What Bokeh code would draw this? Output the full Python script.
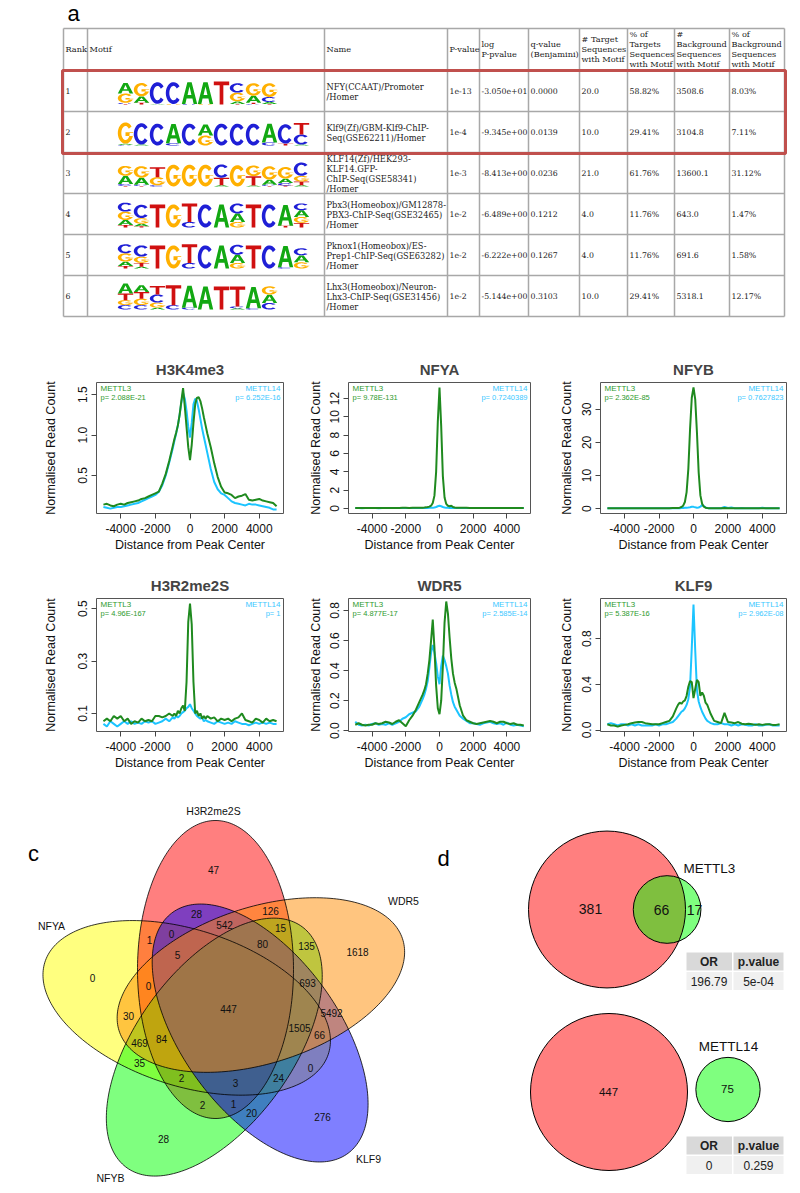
import numpy as np
from bokeh.plotting import figure
from bokeh.models import Range1d, Label
from bokeh.layouts import column, row
from bokeh.embed import file_html
from bokeh.resources import INLINE
from bokeh.core.properties import value

SANS = "Liberation Sans"
SERIF = "DejaVu Serif"

# ======================= DATA : panel a (HOMER known motif table) =======================
table_headers = ["Rank", "Motif", "Name", "P-value", "log\nP-pvalue", "q-value\n(Benjamini)",
                 "# Target\nSequences\nwith Motif", "% of\nTargets\nSequences\nwith Motif",
                 "#\nBackground\nSequences\nwith Motif", "% of\nBackground\nSequences\nwith Motif"]
ranks = ["1", "2", "3", "4", "5", "6"]
motif_names = ["NFY(CCAAT)/Promoter\n/Homer",
               "Klf9(Zf)/GBM-Klf9-ChIP-\nSeq(GSE62211)/Homer",
               "KLF14(Zf)/HEK293-\nKLF14.GFP-\nChIP-Seq(GSE58341)\n/Homer",
               "Pbx3(Homeobox)/GM12878-\nPBX3-ChIP-Seq(GSE32465)\n/Homer",
               "Pknox1(Homeobox)/ES-\nPrep1-ChIP-Seq(GSE63282)\n/Homer",
               "Lhx3(Homeobox)/Neuron-\nLhx3-ChIP-Seq(GSE31456)\n/Homer"]
p_values = ["1e-13", "1e-4", "1e-3", "1e-2", "1e-2", "1e-2"]
log_p = ["-3.050e+01", "-9.345e+00", "-8.413e+00", "-6.489e+00", "-6.222e+00", "-5.144e+00"]
q_values = ["0.0000", "0.0139", "0.0236", "0.1212", "0.1267", "0.3103"]
n_target = ["20.0", "10.0", "21.0", "4.0", "4.0", "10.0"]
pct_target = ["58.82%", "29.41%", "61.76%", "11.76%", "11.76%", "29.41%"]
n_background = ["3508.6", "3104.8", "13600.1", "643.0", "691.6", "5318.1"]
pct_background = ["8.03%", "7.11%", "31.12%", "1.47%", "1.58%", "12.17%"]

# motif logos: information (bits) of each letter per position
motif_nfy = [{"A": .85, "G": .75, "C": .08, "T": .05}, {"G": 1.07, "A": .5, "T": .15},
             {"C": 1.73, "A": .05}, {"C": 1.75, "G": .04}, {"A": 1.75, "C": .04}, {"A": 1.75, "G": .04},
             {"T": 1.85}, {"C": .75, "G": .7, "A": .2, "T": .05}, {"G": 1.0, "A": .55, "T": .1, "C": .05},
             {"G": 1.1, "C": .4, "A": .15, "T": .05}]
motif_klf9 = [{"G": 1.7, "A": .1, "C": .05}, {"C": 1.7, "A": .08}, {"C": 1.75}, {"A": 1.55, "C": .18},
              {"C": 1.75}, {"G": .8, "A": .88}, {"C": 1.75}, {"C": 1.75}, {"C": 1.75},
              {"A": 1.5, "C": .25}, {"C": 1.55, "T": .15}, {"T": .93, "C": .8, "A": .08}]
motif_klf14 = [{"G": .8, "A": .65, "C": .15, "T": .05}, {"G": .93, "A": .55, "C": .1, "T": .05},
               {"T": .8, "G": .65, "C": .1}, {"G": 1.75}, {"G": 1.75}, {"G": 1.75},
               {"C": 1.07, "T": .6, "A": .1}, {"G": 1.7}, {"G": .85, "T": .75, "A": .08},
               {"G": 1.07, "A": .4, "C": .1, "T": .05}, {"G": .93, "A": .35, "C": .2, "T": .08},
               {"C": 1.07, "G": .45, "T": .3, "A": .1}]
motif_pbx3 = [{"C": .72, "G": .67, "A": .4, "T": .2}, {"C": 1.07, "G": .45, "A": .2, "T": .1},
              {"T": 1.85}, {"G": 1.85}, {"T": 1.47, "C": .45}, {"C": 1.85}, {"A": 1.85},
              {"A": .67, "C": .8, "G": .45}, {"T": 1.85}, {"C": 1.85}, {"A": 1.65, "T": .15},
              {"A": .53, "C": .55, "G": .48, "T": .37}]
motif_pknox1 = [{"C": .72, "G": .67, "A": .35, "T": .2}, {"C": .9, "G": .5, "T": .3, "A": .15},
                {"T": 1.85}, {"G": 1.85}, {"T": 1.5, "C": .45}, {"C": 1.85}, {"A": 1.85},
                {"A": .65, "C": .8, "G": .45}, {"T": 1.85}, {"C": 1.85}, {"A": 1.7, "C": .1},
                {"A": .55, "C": .57, "G": .5}]
motif_lhx3 = [{"A": .8, "T": .53, "G": .4, "C": .35}, {"A": .55, "T": .53, "G": .52, "C": .35},
              {"T": .67, "C": .66, "G": .4, "A": .15}, {"T": 1.6, "C": .35}, {"A": 1.75, "C": .15},
              {"A": 1.85}, {"T": 1.85}, {"T": 1.6, "C": .15, "A": .1}, {"A": 1.7, "C": .1},
              {"G": .67, "A": .66, "C": .53}]
motifs = [motif_nfy, motif_klf9, motif_klf14, motif_pbx3, motif_pknox1, motif_lhx3]

# ======================= DATA : panel b (read-count profiles) =======================
X = ([-5000 + 200 * i for i in range(21)] + [-900 + 100 * i for i in range(19)]
     + [1000 + 200 * i for i in range(21)])

h3k4me3_m3 = [0.14, 0.15, 0.13, 0.12, 0.14, 0.15, 0.14, 0.16, 0.17, 0.18, 0.19, 0.21, 0.22, 0.24, 0.26, 0.28, 0.30, 0.40, 0.52, 0.68, 0.86,
              0.95, 1.03, 1.12, 1.25, 1.42, 1.58, 1.35, 1.10, 0.85, 0.69, 0.88, 1.15, 1.38, 1.46, 1.47, 1.42, 1.33, 1.22, 1.12,
              1.02, 0.85, 0.65, 0.48, 0.36, 0.29, 0.28, 0.26, 0.22, 0.24, 0.25, 0.27, 0.20, 0.19, 0.20, 0.21, 0.19, 0.18, 0.17, 0.16, 0.12]
h3k4me3_m14 = [0.11, 0.10, 0.09, 0.10, 0.11, 0.11, 0.12, 0.13, 0.14, 0.15, 0.16, 0.18, 0.20, 0.22, 0.24, 0.26, 0.30, 0.38, 0.50, 0.66, 0.83,
               0.93, 1.02, 1.12, 1.25, 1.40, 1.52, 1.45, 1.30, 1.10, 0.97, 1.15, 1.38, 1.45, 1.42, 1.32, 1.20, 1.08, 0.98, 0.88,
               0.78, 0.58, 0.42, 0.33, 0.28, 0.26, 0.22, 0.18, 0.16, 0.15, 0.14, 0.13, 0.15, 0.14, 0.14, 0.13, 0.12, 0.11, 0.10, 0.08, 0.08]
nfya_m3 = [0.06, 0.05, 0.05, 0.06, 0.05, 0.05, 0.06, 0.05, 0.05, 0.06, 0.06, 0.05, 0.06, 0.06, 0.07, 0.08, 0.06, 0.07, 0.07, 0.08, 0.09,
           0.10, 0.12, 0.15, 0.20, 0.30, 0.60, 1.40, 4.00, 9.50, 13.2, 9.00, 3.50, 1.20, 0.50, 0.30, 0.25, 0.30, 0.15, 0.10,
           0.09, 0.08, 0.07, 0.07, 0.06, 0.06, 0.06, 0.05, 0.05, 0.06, 0.05, 0.05, 0.05, 0.06, 0.05, 0.05, 0.05, 0.04, 0.05, 0.05, 0.05]
nfya_m14 = [0.04, 0.04, 0.03, 0.04, 0.04, 0.04, 0.04, 0.03, 0.04, 0.04, 0.04, 0.04, 0.04, 0.05, 0.04, 0.04, 0.05, 0.04, 0.05, 0.05, 0.05,
            0.05, 0.06, 0.06, 0.07, 0.07, 0.08, 0.10, 0.16, 0.24, 0.30, 0.24, 0.16, 0.10, 0.08, 0.07, 0.06, 0.06, 0.05, 0.05,
            0.05, 0.05, 0.04, 0.04, 0.04, 0.04, 0.04, 0.04, 0.04, 0.04, 0.04, 0.04, 0.04, 0.04, 0.04, 0.04, 0.04, 0.04, 0.04, 0.04, 0.04]
nfyb_m3 = [0.10, 0.12, 0.10, 0.10, 0.11, 0.10, 0.12, 0.10, 0.10, 0.11, 0.10, 0.12, 0.10, 0.11, 0.12, 0.12, 0.13, 0.14, 0.15, 0.18, 0.20,
           0.22, 0.30, 0.50, 0.90, 2.00, 5.00, 12.0, 24.0, 33.5, 36.6, 33.0, 23.0, 11.0, 4.00, 1.50, 0.60, 0.30, 0.20, 0.15,
           0.15, 0.12, 0.12, 0.12, 0.20, 0.12, 0.15, 0.12, 0.10, 0.12, 0.10, 0.10, 0.10, 0.10, 0.10, 0.15, 0.10, 0.10, 0.10, 0.10, 0.10]
nfyb_m14 = [0.10, 0.10, 0.10, 0.10, 0.10, 0.10, 0.10, 0.12, 0.10, 0.10, 0.10, 0.10, 0.10, 0.10, 0.12, 0.10, 0.10, 0.12, 0.12, 0.12, 0.15,
            0.15, 0.15, 0.20, 0.20, 0.25, 0.30, 0.35, 0.45, 0.60, 0.55, 0.40, 0.30, 0.35, 0.60, 1.10, 0.80, 0.35, 0.20, 0.15,
            0.12, 0.12, 0.10, 0.12, 0.50, 0.20, 0.35, 0.15, 0.12, 0.20, 0.12, 0.10, 0.10, 0.10, 0.10, 0.30, 0.12, 0.10, 0.10, 0.10, 0.10]
h3r2_m3 = [0.07, 0.08, 0.07, 0.09, 0.08, 0.09, 0.07, 0.08, 0.06, 0.07, 0.065, 0.08, 0.07, 0.075, 0.07, 0.09, 0.09, 0.085, 0.09, 0.10, 0.09,
           0.10, 0.09, 0.11, 0.10, 0.12, 0.13, 0.11, 0.22, 0.45, 0.52, 0.44, 0.22, 0.10, 0.11, 0.09, 0.10, 0.08, 0.09, 0.08,
           0.09, 0.08, 0.085, 0.07, 0.08, 0.075, 0.08, 0.07, 0.08, 0.085, 0.10, 0.075, 0.07, 0.065, 0.08, 0.075, 0.065, 0.08, 0.07, 0.075, 0.07]
h3r2_m14 = [0.06, 0.05, 0.07, 0.06, 0.05, 0.06, 0.07, 0.06, 0.07, 0.06, 0.065, 0.06, 0.07, 0.065, 0.07, 0.06, 0.065, 0.07, 0.08, 0.07, 0.085,
            0.08, 0.09, 0.085, 0.09, 0.10, 0.105, 0.11, 0.12, 0.125, 0.135, 0.12, 0.11, 0.10, 0.09, 0.085, 0.08, 0.085, 0.07, 0.075,
            0.07, 0.065, 0.06, 0.07, 0.065, 0.06, 0.065, 0.06, 0.07, 0.065, 0.06, 0.06, 0.055, 0.06, 0.065, 0.06, 0.065, 0.06, 0.065, 0.06, 0.06]
wdr5_m3 = [0.04, 0.05, 0.04, 0.035, 0.04, 0.04, 0.05, 0.045, 0.05, 0.06, 0.055, 0.045, 0.06, 0.07, 0.05, 0.03, 0.07, 0.10, 0.14, 0.19, 0.24,
           0.27, 0.31, 0.38, 0.47, 0.60, 0.74, 0.55, 0.30, 0.15, 0.11, 0.20, 0.43, 0.72, 0.86, 0.78, 0.62, 0.48, 0.38, 0.32,
           0.28, 0.17, 0.10, 0.07, 0.06, 0.05, 0.045, 0.05, 0.055, 0.06, 0.065, 0.06, 0.05, 0.06, 0.06, 0.05, 0.045, 0.05, 0.04, 0.04, 0.035]
wdr5_m14 = [0.06, 0.04, 0.035, 0.04, 0.035, 0.045, 0.05, 0.04, 0.045, 0.04, 0.05, 0.04, 0.05, 0.06, 0.08, 0.09, 0.11, 0.12, 0.13, 0.16, 0.21,
            0.24, 0.28, 0.33, 0.42, 0.52, 0.57, 0.52, 0.45, 0.36, 0.31, 0.43, 0.50, 0.47, 0.43, 0.38, 0.30, 0.24, 0.19, 0.16,
            0.14, 0.10, 0.08, 0.065, 0.05, 0.05, 0.045, 0.04, 0.05, 0.055, 0.06, 0.05, 0.045, 0.05, 0.04, 0.055, 0.04, 0.035, 0.04, 0.035, 0.03]
klf9_m3 = [0.05, 0.04, 0.04, 0.03, 0.04, 0.045, 0.05, 0.06, 0.065, 0.07, 0.07, 0.06, 0.055, 0.05, 0.05, 0.05, 0.06, 0.07, 0.08, 0.12, 0.19,
           0.22, 0.24, 0.23, 0.25, 0.26, 0.30, 0.38, 0.43, 0.42, 0.28, 0.36, 0.44, 0.42, 0.30, 0.33, 0.30, 0.24, 0.22, 0.18,
           0.14, 0.08, 0.07, 0.06, 0.15, 0.07, 0.065, 0.06, 0.07, 0.055, 0.05, 0.055, 0.05, 0.045, 0.05, 0.045, 0.05, 0.05, 0.045, 0.045, 0.05]
klf9_m14 = [0.05, 0.06, 0.05, 0.04, 0.05, 0.05, 0.04, 0.05, 0.04, 0.05, 0.04, 0.04, 0.04, 0.04, 0.05, 0.04, 0.05, 0.05, 0.06, 0.07, 0.10,
            0.12, 0.14, 0.16, 0.17, 0.19, 0.22, 0.27, 0.38, 0.72, 1.10, 0.70, 0.35, 0.25, 0.20, 0.16, 0.13, 0.10, 0.08, 0.07,
            0.06, 0.05, 0.05, 0.06, 0.05, 0.05, 0.04, 0.05, 0.04, 0.05, 0.045, 0.04, 0.04, 0.05, 0.04, 0.04, 0.045, 0.05, 0.04, 0.04, 0.04]

profile_titles = ["H3K4me3", "NFYA", "NFYB", "H3R2me2S", "WDR5", "KLF9"]
profile_m3 = [h3k4me3_m3, nfya_m3, nfyb_m3, h3r2_m3, wdr5_m3, klf9_m3]
profile_m14 = [h3k4me3_m14, nfya_m14, nfyb_m14, h3r2_m14, wdr5_m14, klf9_m14]
pval_m3 = ["p= 2.088E-21", "p= 9.78E-131", "p= 2.362E-85", "p= 4.96E-167", "p= 4.877E-17", "p= 5.387E-16"]
pval_m14 = ["p= 6.252E-16", "p= 0.7240389", "p= 0.7627823", "p= 1", "p= 2.585E-14", "p= 2.962E-08"]
y_ticks = [[0.5, 1.0, 1.5], [0, 2, 4, 6, 8, 10, 12], [0, 10, 20, 30],
           [0.1, 0.3, 0.5], [0.0, 0.2, 0.4, 0.6, 0.8], [0.0, 0.4, 0.8]]
y_tick_labels = [["0.5", "1.0", "1.5"], ["0", "2", "4", "6", "8", "10", "12"], ["0", "10", "20", "30"],
                 ["0.1", "0.3", "0.5"], ["0.0", "0.2", "0.4", "0.6", "0.8"], ["0.0", "0.4", "0.8"]]
x_ticks = [-4000, -2000, 0, 2000, 4000]

# ======================= DATA : panel c (5-set Venn) =======================
venn_sets = ["NFYA", "H3R2me2S", "WDR5", "KLF9", "NFYB"]
venn_counts = [47, 28, 126, 542, 15, 0, 1, 80, 135, 1618, 5, 0, 0, 693, 447, 30, 5492, 1505, 66,
               469, 84, 35, 0, 2, 3, 24, 2, 1, 20, 276, 28]

# ======================= DATA : panel d (2-set Venns) =======================
h3r2_only_m3, h3r2_and_m3, m3_only = 381, 66, 17
h3r2_only_m14, h3r2_and_m14, m14_only = 447, 0, 75
or_m3, p_m3 = "196.79", "5e-04"
or_m14, p_m14 = "0", "0.259"

# ======================= LAYOUT / STYLE =======================
LOGO_COLORS = {"A": "#12A812", "C": "#1F1FD6", "G": "#FFB000", "T": "#D01010"}
GREEN_LINE, CYAN_LINE = "#1F8A1F", "#1CC4FF"
PAGE_W = 800


def canvas(y0, y1):
    p = figure(width=PAGE_W, height=y1 - y0, x_range=Range1d(0, PAGE_W), y_range=Range1d(y1, y0),
               output_backend="svg", toolbar_location=None, min_border=0,
               x_axis_location=None, y_axis_location=None)
    p.grid.visible = False
    p.outline_line_color = None
    return p


# ---------------- panel a ----------------
pa = canvas(0, 340)
pa.text(x=[73], y=[13], text=["a"], text_font=value(SANS), text_font_size="22px",
        text_align="center", text_baseline="middle", text_color="black")

col_x = [63, 87, 324, 447, 479, 528, 579, 627, 674, 729, 784]
row_y = [28, 70, 111, 152, 193, 234, 275, 316]
pa.segment(x0=[col_x[0]] * len(row_y), y0=row_y, x1=[col_x[-1]] * len(row_y), y1=row_y,
           line_color="#a8a8a8", line_width=1.5)
pa.segment(x0=col_x, y0=[row_y[0]] * len(col_x), x1=col_x, y1=[row_y[-1]] * len(col_x),
           line_color="#a8a8a8", line_width=1.5)

hx = [col_x[j] + 2 for j in range(len(table_headers))]
pa.text(x=hx, y=[(row_y[0] + row_y[1]) / 2 - 0.5] * len(hx), text=table_headers, text_font=value(SERIF),
        text_font_size="8.2px", text_align="left", text_baseline="middle", text_color="#222222",
        text_line_height=0.98)

tx, ty, tt = [], [], []
nx, ny, nt = [], [], []
cols = [ranks, None, motif_names, p_values, log_p, q_values, n_target, pct_target, n_background, pct_background]
for i in range(6):
    yc = (row_y[i + 1] + row_y[i + 2]) / 2
    for j, c in enumerate(cols):
        if c is None:
            continue
        if j == 2:
            nx.append(col_x[j] + 2); ny.append(yc + 0.5); nt.append(c[i])
        else:
            tx.append(col_x[j] + 2); ty.append(yc); tt.append(c[i])
pa.text(x=nx, y=ny, text=nt, text_font=value(SERIF), text_font_size="8.3px", text_align="left",
        text_baseline="middle", text_color="#222222", text_line_height=1.0)
pa.text(x=tx, y=ty, text=tt, text_font=value(SERIF), text_font_size="7.8px", text_align="left",
        text_baseline="middle", text_color="#222222")


def ring_arc(a0, a1, n=30):
    t = np.radians(np.linspace(a0, a1, n))
    ou = 0.5 + 0.5 * np.cos(t); ov = 0.5 + 0.5 * np.sin(t)
    iu = 0.5 + 0.27 * np.cos(t[::-1]); iv = 0.5 + 0.33 * np.sin(t[::-1])
    return (np.concatenate([ou, iu]), np.concatenate([ov, iv]))


LETTER_SHAPES = {
    "A": [[(np.array([0, .36, .64, 1, .77, .69, .31, .23]), np.array([0, 1, 1, 0, 0, .25, .25, 0])),
           (np.array([.375, .5, .625]), np.array([.41, .8, .41]))]],
    "C": [[ring_arc(38, 322)]],
    "G": [[ring_arc(38, 360)], [(np.array([.5, 1, 1, .5]), np.array([.36, .36, .53, .53]))]],
    "T": [[(np.array([0, 1, 1, .62, .62, .38, .38, 0]), np.array([1, 1, .83, .83, 0, 0, .83, .83]))]],
}

LOGO_X0, LOGO_COLW, PX_PER_BIT = 117.0, 16.0, 12.5
mx, my, mc = [], [], []
for i, motif in enumerate(motifs):
    base = row_y[i + 2] - 7
    for k, colm in enumerate(motif):
        x0 = LOGO_X0 + k * LOGO_COLW
        ycur = base
        for ch, bits in sorted(colm.items(), key=lambda kv: kv[1]):
            h = bits * PX_PER_BIT
            polys_x, polys_y = [], []
            for poly in LETTER_SHAPES[ch]:
                px_, py_ = [], []
                for (u, v) in poly:
                    px_.append(list(x0 + 0.3 + u * (LOGO_COLW - 0.6)))
                    py_.append(list(ycur - v * h))
                polys_x.append(px_); polys_y.append(py_)
            mx.append(polys_x); my.append(polys_y); mc.append(LOGO_COLORS[ch])
            ycur -= h
pa.multi_polygons(xs=mx, ys=my, fill_color=mc, line_color=None)

# red highlight box round the first two rows
pa.rect(x=[(62 + 785) / 2], y=[(row_y[1] + row_y[3]) / 2 + 0.5], width=[785 - 62], height=[row_y[3] - row_y[1] + 1],
        fill_color=None, line_color="#C0504D", line_width=3)

# ---------------- panel b ----------------
YR = [(0.03, 1.65), (-0.55, 13.75), (-1.46, 38.1), (0.031, 0.539), (-0.005, 0.88), (-0.013, 1.153)]
FIG_W = [290, 250, 260]
BL = [96, 58, 60]
BR = [7, 10, 14]
ROW_H = [215, 220]
BT = [42, 43]
BB = [42, 44]
YLAB_SO = [18, 5, 6]


def profile(i):
    r, c = divmod(i, 3)
    w, h = FIG_W[c], ROW_H[r]
    fw = w - BL[c] - BR[c]
    fh = h - BT[r] - BB[r]
    y0, y1 = YR[i]
    p = figure(width=w, height=h, x_range=Range1d(-5400, 5400), y_range=Range1d(y0, y1),
               output_backend="svg", toolbar_location=None, title=profile_titles[i],
               min_border_left=BL[c], min_border_right=BR[c], min_border_top=BT[r], min_border_bottom=BB[r])
    p.title.align = "center"
    p.title.text_font = SANS
    p.title.text_font_size = "15px"
    p.title.text_font_style = "bold"
    p.title.standoff = 10
    p.grid.visible = False
    p.outline_line_color = "#555555"
    p.outline_line_width = 1
    p.line(X, profile_m14[i], line_color=CYAN_LINE, line_width=2)
    p.line(X, profile_m3[i], line_color=GREEN_LINE, line_width=2)
    p.xaxis.ticker = x_ticks
    p.xaxis.major_label_overrides = {t: str(t) for t in x_ticks}
    p.yaxis.ticker = y_ticks[i]
    p.yaxis.major_label_overrides = {t: s for t, s in zip(y_ticks[i], y_tick_labels[i])}
    p.yaxis.major_label_orientation = "vertical"
    p.xaxis.axis_label = "Distance from Peak Center"
    p.yaxis.axis_label = "Normalised Read Count"
    for ax in p.axis:
        ax.axis_line_color = None
        ax.major_tick_out = 5
        ax.major_tick_in = 0
        ax.minor_tick_out = 0
        ax.minor_tick_in = 0
        ax.major_tick_line_color = "#444444"
        ax.major_label_text_font = SANS
        ax.major_label_text_font_size = "12px"
        ax.major_label_text_color = "#111111"
        ax.axis_label_text_font = SANS
        ax.axis_label_text_font_size = "12.5px"
        ax.axis_label_text_font_style = "normal"
        ax.axis_label_text_color = "#111111"
        ax.major_label_standoff = 4
    p.xaxis.major_label_standoff = 5
    p.xaxis.axis_label_standoff = 2
    p.yaxis.axis_label_standoff = YLAB_SO[c]
    dx = 10800 / fw
    dy = (y1 - y0) / fh
    p.add_layout(Label(x=-5400 + 4 * dx, y=y1 - 6 * dy, text="METTL3", text_font=SANS, text_font_size="8px",
                       text_color="#2E9A2E", text_baseline="middle", text_align="left"))
    p.add_layout(Label(x=-5400 + 4 * dx, y=y1 - 15 * dy, text=pval_m3[i], text_font=SANS, text_font_size="7.5px",
                       text_color="#2E9A2E", text_baseline="middle", text_align="left"))
    p.add_layout(Label(x=5400 - 3 * dx, y=y1 - 6 * dy, text="METTL14", text_font=SANS, text_font_size="8px",
                       text_color="#3CC8FF", text_baseline="middle", text_align="right"))
    p.add_layout(Label(x=5400 - 3 * dx, y=y1 - 15 * dy, text=pval_m14[i], text_font=SANS, text_font_size="7.5px",
                       text_color="#3CC8FF", text_baseline="middle", text_align="right"))
    if i == 0:
        p.add_layout(Label(x=-5400 - 63 * dx, y=y1 + 2 * dy, text="b", text_font=SANS, text_font_size="22px",
                           text_color="black", text_baseline="middle", text_align="center"))
    return p


profs = [profile(i) for i in range(6)]

# ---------------- panel c + d ----------------
pc = canvas(775, 1190)
pc.text(x=[33, 443], y=[853, 858], text=["c", "d"], text_font=value(SANS), text_font_size="22px",
        text_align="center", text_baseline="middle", text_color="black")

VC = np.array([227.0, 1008.0])
VOFF = np.array([-12.0, -39.0])
VA, VB = 149.0, 78.0
VROT = {"H3R2me2S": 0, "WDR5": 1, "KLF9": 2, "NFYB": 3, "NFYA": 4}
VCOL = {"NFYA": "#FFFF00", "H3R2me2S": "#FF0000", "WDR5": "#FF8C00", "KLF9": "#0000FF", "NFYB": "#00FF00"}
VDRAW = ["NFYA", "H3R2me2S", "NFYB", "KLF9", "WDR5"]
tt_ = np.linspace(0, 2 * np.pi, 240)
ell = {}
for s in venn_sets:
    phi = np.radians(72 * VROT[s])
    bx = VOFF[0] + VB * np.cos(tt_)
    by = VOFF[1] + VA * np.sin(tt_)
    ex = VC[0] + bx * np.cos(phi) - by * np.sin(phi)
    ey = VC[1] + bx * np.sin(phi) + by * np.cos(phi)
    ell[s] = (list(ex), list(ey))
for s in VDRAW:
    pc.patch(ell[s][0], ell[s][1], fill_color=VCOL[s], fill_alpha=0.5, line_color=None)
pc.multi_line([ell[s][0] for s in venn_sets], [ell[s][1] for s in venn_sets], line_color="black", line_width=0.8)

venn_label_xy = [(213, 869), (196, 913), (270, 910), (224, 924), (280, 927), (171, 933), (149, 939), (262, 943),
                 (306, 945), (357, 951), (177, 954), (92, 977), (148, 985), (307, 982), (228, 1008), (128, 1015),
                 (331, 1012), (299, 1027), (319, 1034), (139, 1042), (161, 1038), (139, 1062), (310, 1067),
                 (181, 1077), (235, 1082), (278, 1077), (202, 1104), (233, 1103), (251, 1112), (322, 1116), (163, 1138)]
pc.text(x=[q[0] for q in venn_label_xy], y=[q[1] for q in venn_label_xy], text=[str(v) for v in venn_counts],
        text_font=value(SANS), text_font_size="10px", text_align="center", text_baseline="middle", text_color="#111111")
set_label_xy = {"NFYA": (51, 925), "H3R2me2S": (213, 810), "WDR5": (403, 900), "KLF9": (368, 1158), "NFYB": (110, 1177)}
pc.text(x=[set_label_xy[s][0] for s in venn_sets], y=[set_label_xy[s][1] for s in venn_sets], text=venn_sets,
        text_font=value(SANS), text_font_size="10.5px", text_align="center", text_baseline="middle", text_color="#111111")


def lens_area(r1, r2, d):
    if d >= r1 + r2:
        return 0.0
    if d <= abs(r1 - r2):
        return np.pi * min(r1, r2) ** 2
    a1 = r1 ** 2 * np.arccos((d * d + r1 * r1 - r2 * r2) / (2 * d * r1))
    a2 = r2 ** 2 * np.arccos((d * d + r2 * r2 - r1 * r1) / (2 * d * r2))
    a3 = 0.5 * np.sqrt((-d + r1 + r2) * (d + r1 - r2) * (d - r1 + r2) * (d + r1 + r2))
    return a1 + a2 - a3


R_BIG = 78.5
unit_area = np.pi * R_BIG ** 2 / (h3r2_only_m3 + h3r2_and_m3)
r_m3 = np.sqrt((h3r2_and_m3 + m3_only) * unit_area / np.pi)
target = h3r2_and_m3 * unit_area
lo, hi = abs(R_BIG - r_m3) + 1e-6, R_BIG + r_m3
for _ in range(60):
    mid = (lo + hi) / 2
    if lens_area(R_BIG, r_m3, mid) > target:
        lo = mid
    else:
        hi = mid
d_m3 = (lo + hi) / 2
r_m14 = np.sqrt((h3r2_and_m14 + m14_only) * unit_area / np.pi)

top_c = (606.5, 909.0)
bot_c = (608.5, 1091.5)
bot_green = (727.5, 1089.0)
pc.circle(x=[top_c[0], bot_c[0]], y=[top_c[1], bot_c[1]], radius=R_BIG, fill_color="#FF0000", fill_alpha=0.5,
          line_color=None)
pc.circle(x=[top_c[0] + d_m3, bot_green[0]], y=[top_c[1], bot_green[1]], radius=[r_m3, r_m14],
          fill_color="#00FF00", fill_alpha=0.5, line_color=None)
pc.circle(x=[top_c[0], bot_c[0], top_c[0] + d_m3, bot_green[0]], y=[top_c[1], bot_c[1], top_c[1], bot_green[1]],
          radius=[R_BIG, R_BIG, r_m3, r_m14], fill_color=None, line_color="black", line_width=1)

pc.text(x=[590, 661, 694], y=[908, 909, 909], text=[str(h3r2_only_m3), str(h3r2_and_m3), str(m3_only)],
        text_font=value(SANS), text_font_size="14px", text_align="center", text_baseline="middle", text_color="#111111")
pc.text(x=[608, 727], y=[1091, 1088], text=[str(h3r2_only_m14), str(m14_only)],
        text_font=value(SANS), text_font_size="11.5px", text_align="center", text_baseline="middle", text_color="#111111")
pc.text(x=[709, 728], y=[868, 1046], text=["METTL3", "METTL14"],
        text_font=value(SANS), text_font_size="13.5px", text_align="center", text_baseline="middle", text_color="#111111")

# OR / p.value mini tables
tab_tops = [952, 1136]
tab_vals = [(or_m3, p_m3), (or_m14, p_m14)]
for tt0, (orv, pv) in zip(tab_tops, tab_vals):
    pc.quad(left=[686, 733], right=[731.5, 783], top=[tt0, tt0], bottom=[tt0 + 18, tt0 + 18],
            fill_color="#D9D9D9", line_color=None)
    pc.quad(left=[686, 733], right=[731.5, 783], top=[tt0 + 19.5, tt0 + 19.5], bottom=[tt0 + 37.5, tt0 + 37.5],
            fill_color="#F0F0F0", line_color=None)
    pc.text(x=[708.5, 758], y=[tt0 + 9.5, tt0 + 9.5], text=["OR", "p.value"], text_font=value(SANS),
            text_font_size="12px", text_font_style="bold", text_align="center", text_baseline="middle",
            text_color="#222222")
    pc.text(x=[708.5, 758], y=[tt0 + 29, tt0 + 29], text=[orv, pv], text_font=value(SANS),
            text_font_size="12px", text_align="center", text_baseline="middle", text_color="#222222")

layout = column(pa, row(*profs[:3]), row(*profs[3:]), pc)
open("out.html", "w").write(file_html(layout, INLINE))
